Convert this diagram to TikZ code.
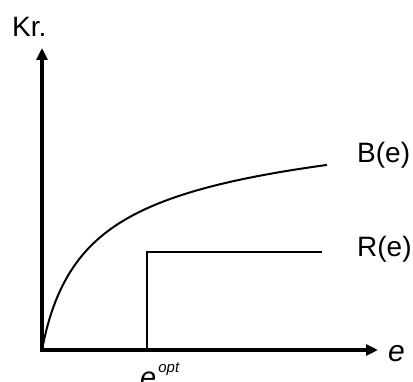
\documentclass[tikz,border=0pt]{standalone}
\usepackage{fontspec}
\setmainfont{Liberation Sans}
\usetikzlibrary{arrows.meta}

\begin{document}
\begin{tikzpicture}[
  x=1pt,y=-1pt,
  axis/.style={line width=4.5pt,-{Triangle[length=12pt,width=11pt]}},
  curve/.style={line width=2pt},
  level/.style={line width=1.3pt},
  lab/.style={inner sep=0pt,font=\fontsize{28}{30}\selectfont},
  curvelab/.style={inner sep=0pt,anchor=west,font=\fontsize{28}{30}\selectfont}
]
\useasboundingbox (0,0) rectangle (413,382);
% axes
\coordinate (o) at (42,350);
\coordinate (ytop) at (42,48);
\coordinate (xend) at (378,350);
\draw[axis] ([yshift=2.2pt]o) -- (ytop);
\draw[axis] ([xshift=-2.2pt]o) -- (xend);
\node[lab,anchor=base west] (kr) at (12,37) {Kr.};
\node[lab,anchor=base west,font=\fontsize{30}{32}\selectfont\itshape] (elab) at (388,362) {e};
% benefit curve
\draw[curve] plot[domain=0:285,samples=120]
  ({42+\x},{350-26*ln(1+\x/8)-107.5*(\x/(\x+50))})
  coordinate (bend);
\node[curvelab] (blab) at (357,155) {B(e)};
% cost line
\coordinate (eopt) at (147,350);
\coordinate (rcorner) at (147,252);
\coordinate (rend) at (322,252);
\draw[level] (eopt) -- (rcorner) -- (rend);
\node[curvelab] (rlab) at (357,249) {R(e)};
\node[lab,anchor=base west,font=\fontsize{29}{30}\selectfont\itshape] (optlab) at (140,388)
  {e\kern2pt\raisebox{15pt}{\fontsize{15}{16}\selectfont opt}};
\end{tikzpicture}
\end{document}
